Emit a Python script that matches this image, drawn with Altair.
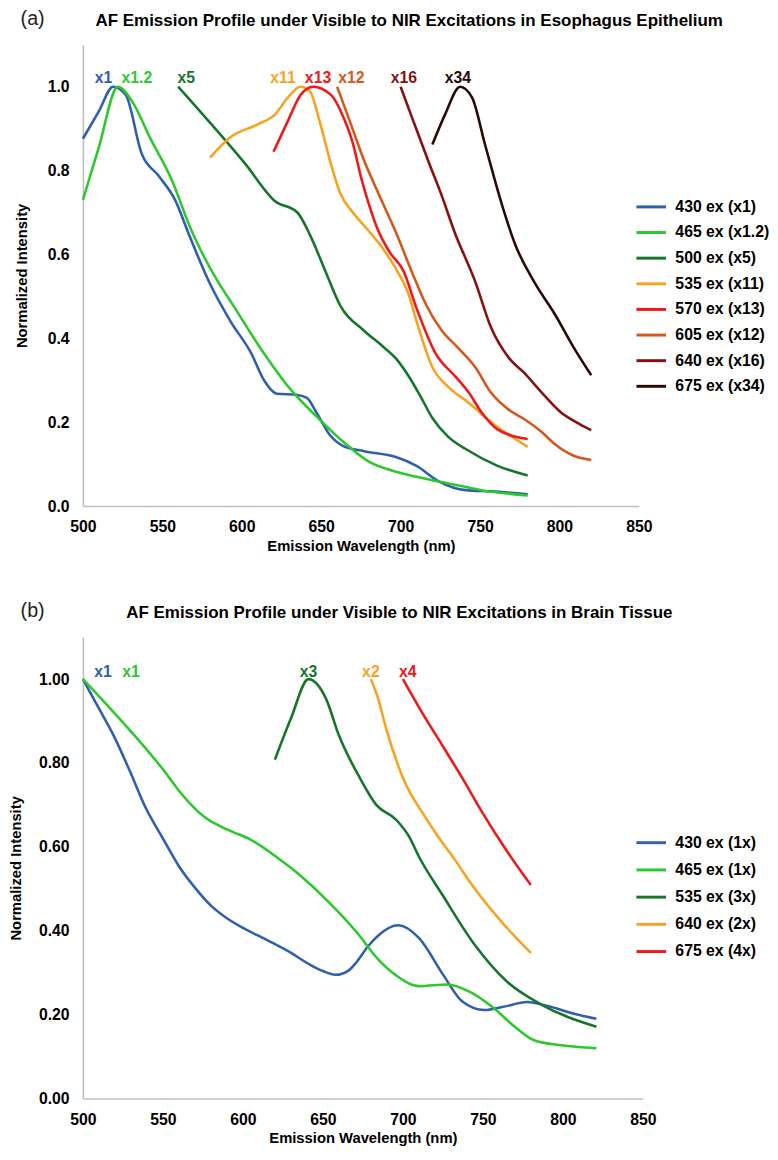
import altair as alt
import pandas as pd

FONT = "Liberation Sans"

# ---------------- Panel (a): Esophagus epithelium ----------------
a_names = ["430 ex (x1)", "465 ex (x1.2)", "500 ex (x5)", "535 ex (x11)",
           "570 ex (x13)", "605 ex (x12)", "640 ex (x16)", "675 ex (x34)"]
a_colors = ["#2f5fad", "#2cc82c", "#15762a", "#f7a320",
            "#f01818", "#d4581c", "#8a1010", "#2a0a08"]

a430_x = [500, 510, 519, 527, 537, 548, 558, 567, 580, 593, 606, 614, 622, 635, 641, 647, 656, 664, 677, 697, 710, 724, 741, 757, 780]
a430_y = [0.876, 0.941, 1.0, 0.98, 0.84, 0.786, 0.73, 0.645, 0.53, 0.44, 0.364, 0.30, 0.268, 0.265, 0.258, 0.223, 0.167, 0.143, 0.131, 0.117, 0.096, 0.059, 0.038, 0.035, 0.028]
a465_x = [500, 510, 522, 531, 542, 556, 568, 585, 593, 614, 631, 647, 664, 680, 697, 710, 730, 751, 780]
a465_y = [0.73, 0.855, 1.0, 0.965, 0.88, 0.777, 0.66, 0.535, 0.488, 0.364, 0.277, 0.214, 0.153, 0.106, 0.082, 0.07, 0.054, 0.038, 0.025]
a500_x = [560, 581, 602, 621, 635, 643, 652, 662, 677, 689, 697, 705, 712, 720, 730, 741, 761, 780]
a500_y = [1.0, 0.91, 0.817, 0.727, 0.70, 0.646, 0.566, 0.478, 0.418, 0.38, 0.352, 0.31, 0.265, 0.21, 0.165, 0.136, 0.096, 0.073]
a535_x = [580, 593, 610, 621, 629, 637, 643, 649, 656, 662, 670, 679, 689, 697, 705, 710, 720, 730, 743, 757, 780]
a535_y = [0.831, 0.88, 0.91, 0.934, 0.974, 1.0, 0.988, 0.918, 0.817, 0.746, 0.70, 0.66, 0.613, 0.566, 0.505, 0.441, 0.331, 0.284, 0.246, 0.2, 0.141]
a570_x = [620, 629, 637, 645, 656, 664, 670, 675, 680, 685, 693, 702, 710, 722, 735, 743, 751, 761, 780]
a570_y = [0.845, 0.918, 0.98, 1.0, 0.981, 0.927, 0.864, 0.785, 0.72, 0.665, 0.606, 0.559, 0.472, 0.364, 0.307, 0.27, 0.223, 0.183, 0.16]
a605_x = [660, 668, 677, 685, 697, 708, 716, 726, 736, 747, 757, 768, 778, 789, 797, 809, 820]
a605_y = [1.0, 0.918, 0.824, 0.754, 0.653, 0.55, 0.48, 0.418, 0.378, 0.331, 0.27, 0.23, 0.207, 0.176, 0.148, 0.12, 0.11]
a640_x = [700, 708, 718, 726, 734, 747, 757, 768, 778, 789, 801, 813, 820]
a640_y = [1.0, 0.918, 0.817, 0.739, 0.653, 0.535, 0.425, 0.354, 0.317, 0.27, 0.223, 0.195, 0.181]
a675_x = [720, 728, 737.5, 745, 753, 764, 772, 784, 797, 809, 820]
a675_y = [0.862, 0.934, 1.0, 0.974, 0.864, 0.716, 0.625, 0.535, 0.458, 0.378, 0.312]

a_lab_text = ["x1", "x1.2", "x5", "x11", "x13", "x12", "x16", "x34"]
a_lab_x = [513, 534, 565, 626, 648, 669, 702, 736]
a_lab_y = [1.02, 1.02, 1.02, 1.02, 1.02, 1.02, 1.02, 1.02]

# ---------------- Panel (b): Brain tissue ----------------
b_names = ["430 ex (1x)", "465 ex (1x)", "535 ex (3x)", "640 ex (2x)", "675 ex (4x)"]
b_colors = ["#2f5fad", "#2cc82c", "#15762a", "#f7a320", "#f01818"]

b430_x = [500, 510, 519, 530, 539, 550, 560, 570, 580, 590, 601, 614, 628, 642, 650, 658, 666, 671, 678, 685, 697, 710, 725, 737, 751, 762, 778, 790, 807, 821]
b430_y = [1.0, 0.93, 0.867, 0.775, 0.695, 0.62, 0.554, 0.503, 0.46, 0.43, 0.405, 0.38, 0.352, 0.319, 0.304, 0.295, 0.305, 0.325, 0.362, 0.39, 0.413, 0.383, 0.296, 0.232, 0.211, 0.218, 0.23, 0.221, 0.202, 0.19]
b465_x = [500, 519, 539, 550, 560, 576, 591, 605, 622, 634, 654, 671, 685, 696, 710, 728, 741, 756, 770, 782, 799, 821]
b465_y = [1.0, 0.922, 0.836, 0.785, 0.734, 0.671, 0.64, 0.617, 0.573, 0.538, 0.467, 0.397, 0.33, 0.293, 0.268, 0.272, 0.256, 0.218, 0.171, 0.139, 0.127, 0.12]
b535_x = [620, 630, 641, 652, 660, 673, 683, 696, 704, 710, 725, 745, 765, 786, 821]
b535_y = [0.808, 0.906, 1.0, 0.953, 0.866, 0.765, 0.702, 0.664, 0.624, 0.577, 0.484, 0.366, 0.279, 0.225, 0.171]
b640_x = [680, 684, 690, 700, 714, 721, 732, 745, 762, 780]
b640_y = [1.0, 0.96, 0.876, 0.765, 0.671, 0.63, 0.572, 0.50, 0.42, 0.347]
b675_x = [700, 712, 725, 737, 750, 765, 780]
b675_y = [1.0, 0.92, 0.84, 0.765, 0.68, 0.59, 0.509]

b_lab_text = ["x1", "x1", "x3", "x2", "x4"]
b_lab_x = [512.5, 530, 641, 680, 703]
b_lab_y = [1.016, 1.016, 1.016, 1.016, 1.016]


def long_df(names, xs_list, ys_list):
    rows = []
    for n, xs, ys in zip(names, xs_list, ys_list):
        for x, y in zip(xs, ys):
            rows.append({"series": n, "wl": x, "v": y})
    return pd.DataFrame(rows)


a_df = long_df(a_names, [a430_x, a465_x, a500_x, a535_x, a570_x, a605_x, a640_x, a675_x],
               [a430_y, a465_y, a500_y, a535_y, a570_y, a605_y, a640_y, a675_y])
b_df = long_df(b_names, [b430_x, b465_x, b535_x, b640_x, b675_x],
               [b430_y, b465_y, b535_y, b640_y, b675_y])

a_lab = pd.DataFrame({"label": a_lab_text, "wl": a_lab_x, "v": a_lab_y, "col": a_colors})
b_lab = pd.DataFrame({"label": b_lab_text, "wl": b_lab_x, "v": b_lab_y, "col": b_colors})

x_ticks = [500, 550, 600, 650, 700, 750, 800, 850]
y_ticks = [0, 0.2, 0.4, 0.6, 0.8, 1.0]


def panel(df, lab, names, colors, width, title, tag, yfmt, title_dx, legend_y, row_pad, ytp):
    x = alt.X("wl:Q", scale=alt.Scale(domain=[500, 850], nice=False, zero=False),
              axis=alt.Axis(values=x_ticks, title="Emission Wavelength (nm)", format="d",
                            labelFlush=False))
    y = alt.Y("v:Q", scale=alt.Scale(domain=[0, 1.1], nice=False),
              axis=alt.Axis(values=y_ticks, format=yfmt, title="Normalized Intensity",
                            labelFlush=False, titlePadding=ytp))
    lines = alt.Chart(df).mark_line(interpolate="monotone", strokeWidth=2.6).encode(
        x=x, y=y,
        color=alt.Color("series:N", sort=names,
                        scale=alt.Scale(domain=names, range=colors),
                        legend=alt.Legend(title=None, orient="none", legendX=560, legendY=legend_y,
                                          symbolType="stroke", symbolSize=900, symbolStrokeWidth=3,
                                          labelFont=FONT, labelFontSize=16, labelFontWeight="bold",
                                          labelColor="black", labelOffset=8, rowPadding=row_pad,
                                          padding=0)),
    )
    text = alt.Chart(lab).mark_text(font=FONT, fontSize=16, fontWeight="bold",
                                    baseline="middle", align="center").encode(
        x="wl:Q", y="v:Q", text="label:N", color=alt.Color("col:N", scale=None))
    tag_t = alt.Chart(pd.DataFrame({"t": [tag]})).mark_text(
        font=FONT, fontSize=20, align="center", baseline="middle", color="#222222").encode(
        x=alt.value(-51), y=alt.value(-26), text="t:N")
    return alt.layer(lines, text, tag_t).resolve_scale(color="independent").properties(
        width=width, height=468,
        title=alt.TitleParams(title, font=FONT, fontSize=17.2, fontWeight="bold", color="black",
                              anchor="middle", dx=title_dx, offset=-20))


chart_a = panel(a_df, a_lab, a_names, a_colors, 564,
                "AF Emission Profile under Visible to NIR Excitations in Esophagus Epithelium",
                "(a)", ".1f", 49, 148, 1, 18)
chart_b = panel(b_df, b_lab, b_names, b_colors, 568,
                "AF Emission Profile under Visible to NIR Excitations in Brain Tissue",
                "(b)", ".2f", 37, 192, 2.6, 15)

chart = alt.vconcat(chart_a, chart_b, spacing=49).properties(
    padding={"left": 0, "top": -7, "right": 0, "bottom": 0}
).configure_view(stroke=None).configure_axis(
    labelFont=FONT, labelFontSize=16, labelFontWeight="bold", labelColor="black",
    titleFont=FONT, titleFontSize=15, titleFontWeight="bold", titleColor="black",
    domainColor="#bfbfbf", domainWidth=1.6, ticks=False, grid=False
).configure_axisX(labelPadding=13, titlePadding=4).configure_axisY(labelPadding=14)

chart.save("out.html", embed_options={"renderer": "svg", "actions": False})
